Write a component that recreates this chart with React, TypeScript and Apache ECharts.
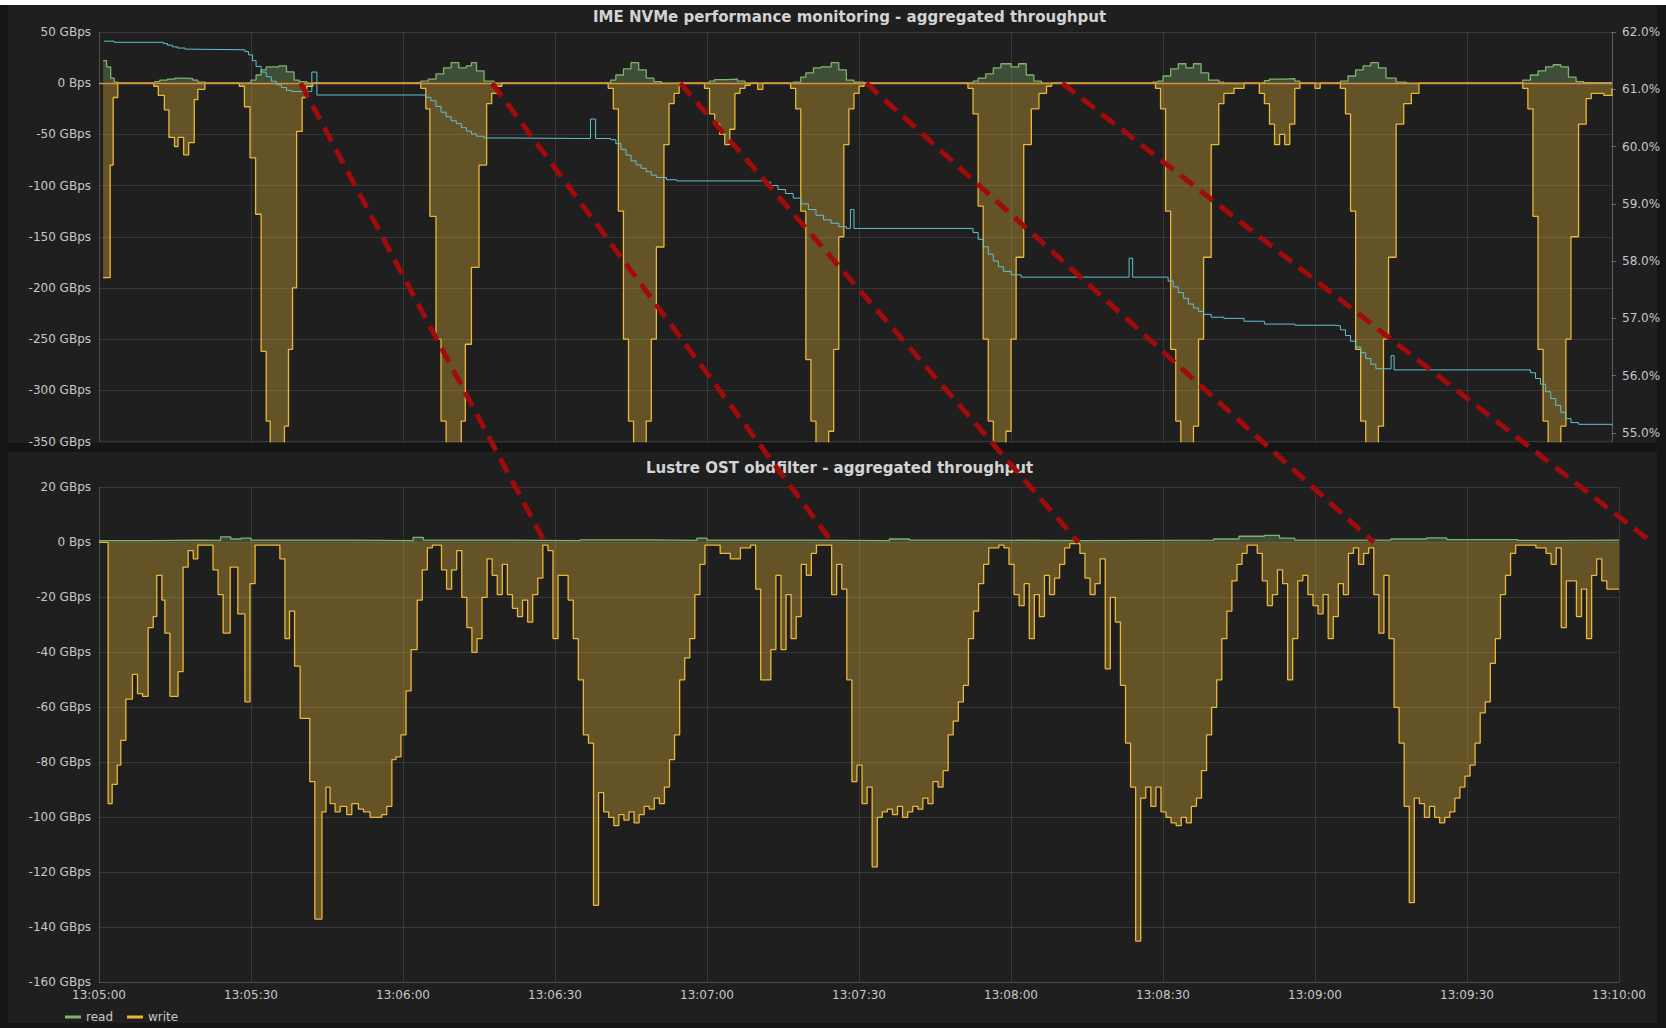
import React, { useEffect, useRef } from "react";
import * as echarts from "echarts";

// ---- time axis: seconds after 13:05:00 ----
const X_MIN = 0;
const X_MAX_BOTTOM = 300;
const X_MAX_TOP = 298.6;
const X_STEP = 30;

// ---- y axis ranges / tick labels ----
const IME_Y = { min: -350, max: 50, step: 50 };
const IME_PCT = { min: 54.85, max: 62 };
const IME_PCT_TICKS = [55, 56, 57, 58, 59, 60, 61, 62];
const OST_Y = { min: -160, max: 20, step: 20 };

const LEGEND_NAMES = ["read", "write"];
const TITLE_IME = "IME NVMe performance monitoring - aggregated throughput";
const TITLE_OST = "Lustre OST obdfilter - aggregated throughput";

// ---- IME NVMe: write throughput (GBps, negative = write), [sec, value] ----
const imeWrite: [number, number][] = [
  [0.8, -190], [2.2, -80], [2.8, -14], [3.7, 0],
  [10.8, -3], [11.7, -12], [12.9, -26], [13.8, -53], [14.9, -62], [15.6, -53], [16.7, -70], [17.7, -58], [18.8, -16], [19.5, -6], [20.9, 0],
  [27.7, -3], [28.7, -23], [29.8, -73], [30.9, -128], [32, -262], [33, -330], [33.8, -420], [36.6, -335], [37.4, -260], [38.2, -200], [39, -47], [40.1, -14], [41, -3], [42.2, 0],
  [63.5, -5], [64.5, -25], [65.3, -130], [66.5, -250], [67.5, -330], [68.5, -420], [71.5, -330], [72.3, -255], [73.5, -180], [75, -80], [76.5, -20], [77.5, -10], [78.5, -3], [79.5, 0],
  [100.5, -5], [101.5, -25], [102.5, -125], [103.5, -250], [104.5, -330], [105.5, -420], [108, -330], [109, -250], [110, -160], [111.5, -60], [112.5, -20], [113.5, -10], [114.5, 0],
  [119.5, -5], [120.5, -30], [121.5, -40], [122.5, -50], [123.5, -60], [124.5, -45], [125.5, -10], [126.5, -5], [127.5, -2], [128.5, 0], [130, -6], [131, 0],
  [136.5, -5], [137.5, -25], [138.5, -125], [139.5, -270], [140.5, -330], [141.5, -420], [144, -340], [145, -260], [146, -150], [147, -60], [148, -25], [149, -10], [150, -3], [151, 0],
  [171.5, -5], [172.5, -30], [173.5, -120], [174.5, -250], [175.5, -330], [176.5, -420], [179, -340], [180, -250], [181, -170], [182.5, -60], [184, -25], [185.5, -10], [187, -3], [188, 0],
  [208.5, -5], [209.5, -25], [210.5, -125], [211.5, -260], [212.5, -330], [213.5, -420], [216, -335], [217, -250], [218, -170], [219.5, -60], [221, -20], [222, -10], [224, -5], [226, 0],
  [229, -10], [230, -20], [231, -40], [232, -60], [233, -50], [234, -60], [235, -40], [236, -5], [237, 0], [240, -5], [241, 0],
  [245, -5], [246, -30], [247, -125], [248, -260], [249, -330], [250, -420], [252.5, -335], [253.5, -250], [254.5, -170], [256, -40], [257.5, -20], [259, -10], [260.5, 0],
  [281, -5], [282, -25], [283, -130], [284, -260], [285, -330], [286, -420], [288.5, -335], [289.5, -250], [290.5, -150], [292, -40], [293.5, -15], [294.5, -10], [297, -12], [298.6, -5],
];

// ---- IME NVMe: read throughput (GBps) ----
const imeRead: [number, number][] = [
  [0.8, 22], [1.5, 16], [2.3, 5], [3, 1], [3.7, 0],
  [10, 0], [11, 1.5], [12, 3], [13.5, 4], [15, 5], [17, 4.5], [18.5, 3], [19.5, 1], [21, 0],
  [29, 0.5], [30, 3], [31, 8], [32, 13], [33, 16], [35.5, 17], [37, 11], [38.5, 3], [39.5, 1.5], [41, 0],
  [62, 0.5], [63.5, 2], [65, 4], [66.5, 9], [68, 15], [69.5, 20], [71, 15], [72.5, 17], [73.5, 20], [74.5, 12], [76, 2], [78, 0],
  [100, 0.5], [101, 3], [102, 8], [103.5, 14], [105, 20], [106.5, 13], [108, 5], [109.5, 1.5], [111, 0],
  [119, 0.5], [120.5, 2], [121.5, 3.5], [124, 4], [126, 2], [127.5, 0],
  [137, 1], [138.5, 6], [139.5, 10], [141, 15], [142.5, 16], [144.5, 20], [146, 13], [147.5, 3], [149, 1], [151, 0],
  [171, 0.5], [172.5, 2], [173.5, 5], [175, 9], [176.5, 15], [178, 19], [180, 16], [181.5, 19], [183, 8], [184.5, 2], [186, 0],
  [208, 1], [209, 2], [210, 7], [211.5, 14], [213, 19], [214.5, 15], [216, 19], [217.5, 10], [219, 3], [221, 1], [222, 0],
  [229, 0.5], [230, 2.5], [231, 4], [234, 4.5], [236, 2], [237, 0],
  [244, 0.5], [245, 2], [246.5, 7], [248, 13], [249.5, 17], [251, 20], [252.5, 15], [254, 5], [256, 1], [258, 0],
  [280, 0.5], [281, 3], [282.5, 8], [284, 12], [285.5, 16], [287, 18], [288.5, 16], [290, 6], [291.5, 1.5], [293, 0.5], [298.6, 0.5],
];

// ---- IME NVMe: device fill level (%), right axis ----
const imeFill: [number, number][] = [
  [1, 61.84], [3, 61.82], [12.7, 61.8], [13.5, 61.77], [14.5, 61.74], [15.5, 61.72], [17, 61.7], [18, 61.69],
  [28.8, 61.66], [29.5, 61.6], [30.3, 61.5], [31, 61.4], [32, 61.3], [33, 61.22], [34, 61.14], [35, 61.08], [36, 61.03], [37, 60.98], [38, 60.96],
  [41.5, 60.96], [42, 61.3], [43, 60.9],
  [64.5, 60.86], [65.5, 60.8], [66.5, 60.7], [67.5, 60.6], [68.5, 60.52], [69.5, 60.45], [70.5, 60.4], [71.5, 60.33], [72.5, 60.27], [73.5, 60.22], [74.5, 60.18], [76, 60.15], [80, 60.14],
  [97, 60.48], [98, 60.14],
  [101, 60.12], [102, 60.05], [103, 59.95], [104, 59.85], [105, 59.75], [106, 59.68], [107, 59.62], [108, 59.56], [109, 59.5], [110, 59.46], [112, 59.42], [114, 59.4],
  [131.5, 59.38], [132.5, 59.32], [134, 59.25], [135.5, 59.18], [137, 59.1], [138.5, 59.0], [140, 58.9], [141.5, 58.8], [143, 58.72], [144.5, 58.66], [146, 58.6], [147.5, 58.57],
  [148.3, 58.9], [149, 58.57],
  [172.5, 58.5], [173.5, 58.38], [174.5, 58.25], [175.5, 58.12], [176.5, 58.0], [177.5, 57.9], [178.5, 57.82], [180, 57.76], [182, 57.72],
  [203.3, 58.05], [204, 57.72],
  [211, 57.65], [212, 57.55], [213, 57.45], [214, 57.35], [215, 57.25], [216, 57.18], [217, 57.12], [218, 57.07], [219.5, 57.02], [222, 57.0],
  [226, 56.95], [230, 56.9], [236, 56.88], [244, 56.87],
  [245, 56.8], [246, 56.7], [247, 56.6], [248, 56.5], [249, 56.4], [250, 56.3], [251, 56.2], [252, 56.12],
  [255, 56.35], [255.6, 56.1],
  [282.5, 56.05], [283.5, 55.95], [284.5, 55.85], [285.5, 55.72], [286.5, 55.6], [287.5, 55.48], [288.5, 55.36], [289.5, 55.25], [290.5, 55.18], [292, 55.15], [298.6, 55.13],
];

// ---- Lustre OST: write throughput (GBps) ----
const ostWrite: [number, number][] = [
  [0, 0], [1.8, -95], [2.6, -88], [3.6, -81], [4.3, -72], [5.3, -57], [6.6, -48], [7.6, -55], [8.6, -56], [9.7, -31], [10.7, -27], [11.4, -12], [12.4, -21], [13, -33], [14, -56], [15.6, -47], [16.6, -9], [17.6, -3], [18.6, -6], [19.5, -1], [22.5, -10], [23.5, -19], [24.5, -33], [25.9, -9], [27.4, -26], [28.8, -58], [29.8, -15], [30.8, -1], [35.7, -6],
  [36.7, -35], [37.6, -25], [38.6, -45], [39.7, -64], [40.6, -64], [41.6, -87], [42.6, -137], [44, -98], [44.8, -89], [45.6, -95], [46.6, -98], [47.6, -96], [48.9, -99], [49.9, -95], [51.2, -97], [52.2, -98], [53.5, -100], [54.5, -100], [55.8, -99], [56.8, -96], [57.8, -79], [58.6, -78], [59.6, -70], [60.6, -54], [61.6, -39], [62.8, -21], [63.8, -10], [64.8, -2],
  [65.8, -1], [67.6, -10], [68.6, -17], [69.6, -10], [70.6, -3], [71.6, -20], [72.6, -31], [73.6, -40], [74.6, -35], [75.6, -20], [76.6, -6], [77.6, -12], [78.6, -19], [79.6, -8], [80.6, -19], [81.6, -24], [82.6, -27], [83.6, -21], [84.6, -29], [85.6, -19], [86.6, -13], [87.6, -1], [88.6, -3], [89.6, -35], [90.6, -12],
  [91.6, -12], [92.6, -21], [93.6, -35], [94.6, -50], [95.6, -70], [96.6, -73], [97.6, -132], [98.6, -91], [99.6, -98], [100.6, -100], [101.6, -103], [102.6, -99], [103.6, -101], [104.6, -98], [105.6, -102], [106.6, -99], [107.6, -96], [108.6, -97], [109.6, -93], [110.6, -95], [111.6, -89], [112.6, -79], [113.6, -70], [114.6, -50], [115.6, -42], [116.6, -35], [117.6, -19], [118.6, -8], [119.6, -1],
  [120.6, -1], [122.6, -4], [124.6, -6], [126.6, -2], [128.6, -1], [129.6, -17], [130.6, -50], [132.6, -39], [133.6, -12], [134.6, -39], [135.6, -19], [136.6, -35], [137.6, -27], [138.6, -8], [139.6, -12], [140.6, -4], [141.6, -1], [144.6, -19], [145.6, -8],
  [146.6, -17], [147.6, -50], [148.6, -87], [149.6, -81], [150.6, -95], [151.6, -89], [152.6, -118], [153.6, -100], [154.6, -98], [155.6, -97], [156.6, -99], [157.6, -96], [158.6, -100], [159.6, -98], [160.6, -96], [161.6, -97], [162.6, -93], [163.6, -95], [164.6, -87], [165.6, -89], [166.6, -83], [167.6, -70], [168.6, -65], [169.6, -58], [170.6, -52], [171.6, -35], [172.6, -25], [173.6, -15], [174.6, -8], [175.6, -2],
  [177.6, -1], [178.6, -2], [179.6, -8], [180.6, -19], [181.6, -23], [182.6, -15], [183.6, -35], [184.6, -19], [185.6, -27], [186.6, -12], [187.6, -19], [188.6, -13], [189.6, -8], [190.6, -2], [191.6, -0.5], [193.6, -4], [194.6, -13], [195.6, -19], [196.6, -15], [197.6, -6], [198.6, -46], [199.6, -20],
  [200.6, -29], [201.6, -52], [202.6, -73], [203.6, -89], [204.6, -145], [205.6, -93], [206.6, -89], [207.6, -96], [208.6, -89], [209.6, -98], [210.6, -100], [211.6, -102], [212.6, -103], [213.6, -100], [214.6, -102], [215.6, -96], [216.6, -93], [217.6, -83], [218.6, -70], [219.6, -60], [220.6, -50], [221.6, -35], [222.6, -25], [223.6, -14], [224.6, -8], [225.6, -4], [226.6, -1],
  [228.6, -4], [229.6, -14], [230.6, -23], [231.6, -19], [232.6, -10], [233.6, -15], [234.6, -50], [235.6, -35], [236.6, -14], [237.6, -12], [238.6, -19], [239.6, -23], [240.6, -26], [241.6, -19], [242.6, -35], [243.6, -27], [244.6, -15], [245.6, -19], [246.6, -4], [247.6, -2], [248.6, -8], [249.6, -4], [250.6, -2], [251.6, -19], [252.6, -33],
  [253.6, -12], [254.6, -35], [255.6, -60], [256.6, -73], [257.6, -96], [258.6, -131], [259.6, -93], [260.6, -95], [261.6, -100], [262.6, -96], [263.6, -100], [264.6, -102], [265.6, -100], [266.6, -98], [267.6, -93], [268.6, -89], [269.6, -85], [270.6, -81], [271.6, -73], [272.6, -62], [273.6, -58], [274.6, -44], [275.6, -35], [276.6, -19], [277.6, -12], [278.6, -4], [279.6, -1],
  [281.6, -1], [283.6, -2], [285.6, -4], [286.6, -8], [287.6, -2], [288.6, -31], [289.6, -14], [290.6, -14], [291.6, -27], [292.6, -17], [293.6, -35], [294.6, -12], [295.6, -6], [296.6, -14], [297.6, -17], [300, -17],
];

// ---- Lustre OST: read throughput (GBps) ----
const ostRead: [number, number][] = [
  [0, 0.6], [10, 0.8], [20, 0.7], [24, 2], [26, 1.2], [28, 1.5], [30, 0.8], [50, 0.6], [62, 1.8], [64, 0.8], [80, 0.6], [95, 0.9],
  [110, 0.7], [118, 1.5], [120, 0.8], [140, 0.6], [156, 1.2], [160, 0.8], [175, 0.6], [195, 0.8], [220, 1.2], [225, 2.2], [230, 2.5],
  [233, 1.5], [236, 0.8], [255, 1.2], [262, 1.6], [266, 1], [280, 0.7], [290, 0.8], [300, 0.9],
];

// ---- flush annotations: burst end on IME -> matching end on Lustre (seconds) ----
const flushFrom = [39.8, 77.6, 114.7, 151.4, 190.1];
const flushTo = [88, 144.7, 193.3, 251.6, 306.5];

const FONT = "DejaVu Sans";
const LABEL_COLOR = "#c5c7ca";
const TITLE_COLOR = "#d2d3d4";
const GRID_LINE = "rgba(255,255,255,0.11)";
const READ_COLOR = "#7EB26D";
const WRITE_COLOR = "#EAB839";
const ZERO_COLOR = "#E0903A";
const FILL_COLOR = "#62c0cf";
const PANEL_BG = "#1f1f1f";

const W = 1666;
const H = 1028;

function clock(sec: number): string {
  const total = 13 * 3600 + 5 * 60 + Math.round(sec);
  const h = Math.floor(total / 3600);
  const m = Math.floor((total % 3600) / 60);
  const s = total % 60;
  const p = (n: number) => String(n).padStart(2, "0");
  return `${p(h)}:${p(m)}:${p(s)}`;
}

function gbps(v: number): string {
  return v === 0 ? "0 Bps" : `${v} GBps`;
}

function throughputSeries(name: string, color: string, data: [number, number][], xi: number, yi: number, fillAlpha: number) {
  return {
    name,
    type: "line",
    step: "end",
    xAxisIndex: xi,
    yAxisIndex: yi,
    data,
    color,
    showSymbol: false,
    symbol: "none",
    clip: true,
    lineStyle: { color, width: 1.3 },
    areaStyle: { color, opacity: fillAlpha },
    emphasis: { disabled: true },
  };
}

export default function App() {
  const ref = useRef<HTMLDivElement>(null);

  useEffect(() => {
    if (!ref.current) return;
    const chart = echarts.init(ref.current, undefined, { renderer: "svg" });

    const axisLabelBase = { color: LABEL_COLOR, fontFamily: FONT, fontSize: 12 };
    const titleStyle = { color: TITLE_COLOR, fontFamily: FONT, fontSize: 15, fontWeight: "bold" };

    const imeWriteSeries: any = throughputSeries("write", WRITE_COLOR, imeWrite, 0, 0, 0.34);
    imeWriteSeries.markLine = {
      silent: true,
      symbol: "none",
      label: { show: false },
      lineStyle: { color: ZERO_COLOR, width: 1.3, type: "solid" },
      data: [{ yAxis: 0 }],
    };

    chart.setOption({
      animation: false,
      backgroundColor: "#151515",
      title: [
        { text: TITLE_IME, left: 588, top: 4, textStyle: titleStyle },
        { text: TITLE_OST, left: 641, top: 455, textStyle: titleStyle },
      ],
      legend: {
        data: LEGEND_NAMES,
        left: 60,
        top: 1006,
        icon: "rect",
        itemWidth: 16,
        itemHeight: 3,
        itemGap: 14,
        textStyle: { color: LABEL_COLOR, fontFamily: FONT, fontSize: 12 },
      },
      grid: [
        { left: 99, right: W - 1612, top: 32, height: 409.5, containLabel: false },
        { left: 99, right: W - 1619, top: 487.3, height: 495, containLabel: false },
      ],
      xAxis: [
        {
          type: "value", gridIndex: 0, min: X_MIN, max: X_MAX_TOP, interval: X_STEP,
          axisLine: { show: false }, axisTick: { show: false }, axisLabel: { show: false },
          splitLine: { show: true, lineStyle: { color: GRID_LINE, width: 1 } },
        },
        {
          type: "value", gridIndex: 1, min: X_MIN, max: X_MAX_BOTTOM, interval: X_STEP,
          axisLine: { show: true, onZero: false, lineStyle: { color: GRID_LINE } }, axisTick: { show: false },
          axisLabel: { ...axisLabelBase, margin: 7, formatter: (v: number) => clock(v), showMinLabel: true, showMaxLabel: true },
          splitLine: { show: true, lineStyle: { color: GRID_LINE, width: 1 } },
        },
      ],
      yAxis: [
        {
          type: "value", gridIndex: 0, min: IME_Y.min, max: IME_Y.max, interval: IME_Y.step,
          axisLine: { show: true, lineStyle: { color: GRID_LINE } }, axisTick: { show: false },
          axisLabel: { ...axisLabelBase, margin: 8, formatter: gbps },
          splitLine: { show: true, lineStyle: { color: GRID_LINE, width: 1 } },
        },
        {
          type: "value", gridIndex: 0, position: "right", min: IME_PCT.min, max: IME_PCT.max,
          axisLine: { show: true, lineStyle: { color: "rgba(255,255,255,0.2)" } },
          axisTick: { show: true, length: 4, customValues: IME_PCT_TICKS, lineStyle: { color: "rgba(255,255,255,0.3)" } },
          axisLabel: { ...axisLabelBase, margin: 10, customValues: IME_PCT_TICKS, formatter: (v: number) => `${v.toFixed(1)}%` },
          splitLine: { show: false },
        },
        {
          type: "value", gridIndex: 1, min: OST_Y.min, max: OST_Y.max, interval: OST_Y.step,
          axisLine: { show: true, lineStyle: { color: GRID_LINE } }, axisTick: { show: false },
          axisLabel: { ...axisLabelBase, margin: 8, formatter: gbps },
          splitLine: { show: true, lineStyle: { color: GRID_LINE, width: 1 } },
        },
      ],
      series: [
        throughputSeries("read", READ_COLOR, imeRead, 0, 0, 0.32),
        imeWriteSeries,
        {
          name: "NVMe fill",
          type: "line",
          step: "end",
          xAxisIndex: 0,
          yAxisIndex: 1,
          data: imeFill,
          showSymbol: false,
          symbol: "none",
          color: FILL_COLOR,
          lineStyle: { color: FILL_COLOR, width: 1 },
          emphasis: { disabled: true },
        },
        throughputSeries("read", READ_COLOR, ostRead, 1, 2, 0.32),
        throughputSeries("write", WRITE_COLOR, ostWrite, 1, 2, 0.34),
      ],
    });

    // pixel position of a time on a panel's zero line, taken from that panel's axes
    // (linear between the axis ends, so times past the last tick still land correctly)
    const zeroLinePixel = (seriesIndex: number, tMax: number, t: number) => {
      const p0 = chart.convertToPixel({ seriesIndex }, [X_MIN, 0]) as number[];
      const p1 = chart.convertToPixel({ seriesIndex }, [tMax, 0]) as number[];
      const f = (t - X_MIN) / (tMax - X_MIN);
      return [p0[0] + f * (p1[0] - p0[0]), p0[1]];
    };

    const lines = flushFrom.map((t0, i) => {
      const a = zeroLinePixel(1, X_MAX_TOP, t0);
      const b = zeroLinePixel(4, X_MAX_BOTTOM, flushTo[i]);
      return {
        type: "line",
        z: 100,
        silent: true,
        shape: { x1: a[0], y1: a[1], x2: b[0], y2: b[1] },
        style: { stroke: "#a10b0b", lineWidth: 5, lineDash: [16, 9] },
      };
    });

    chart.setOption({
      graphic: [
        { type: "rect", z: -100, silent: true, shape: { x: 0, y: 0, width: W, height: 5 }, style: { fill: "#ffffff" } },
        { type: "rect", z: -100, silent: true, shape: { x: 8, y: 5, width: 1649, height: 438 }, style: { fill: PANEL_BG } },
        { type: "rect", z: -100, silent: true, shape: { x: 8, y: 452, width: 1649, height: 571 }, style: { fill: PANEL_BG } },
        ...lines,
      ],
    });

    return () => chart.dispose();
  }, []);

  return <div ref={ref} style={{ position: "fixed", left: 0, top: 0, width: W, height: H }} />;
}
